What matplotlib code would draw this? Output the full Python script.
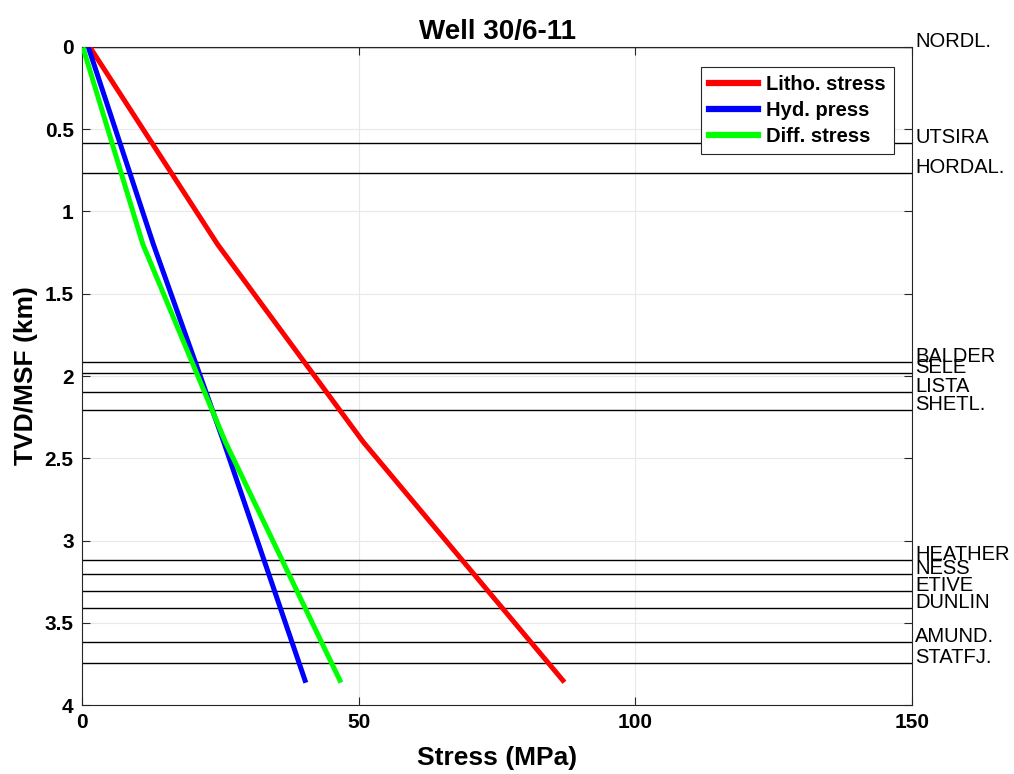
import matplotlib.pyplot as plt
import matplotlib.transforms as mtransforms

plt.rcParams['font.family'] = ['Liberation Sans', 'DejaVu Sans']

# Formation tops (km TVD below seafloor)
horizon_names = ["NORDL.", "UTSIRA", "HORDAL.", "BALDER", "SELE", "LISTA", "SHETL.",
                 "HEATHER", "NESS", "ETIVE", "DUNLIN", "AMUND.", "STATFJ."]
horizon_depth = [0.0, 0.584, 0.766, 1.915, 1.98, 2.097, 2.207,
                 3.12, 3.205, 3.307, 3.41, 3.617, 3.745]

# Stress profiles (MPa) vs depth (km)
depth = [0.018, 1.2, 2.4, 3.85]
litho_stress = [1.75, 24.5, 50.8, 86.9]
hyd_press = [1.3, 12.9, 25.6, 40.3]
diff_stress = [0.3, 11.0, 25.9, 46.6]

fig = plt.figure(figsize=(10.14, 7.74), dpi=100)
ax = fig.add_axes([0.0809, 0.0891, 0.8185, 0.8502])

ax.grid(True, color='#e8e8e8', lw=0.8, zorder=0)

# Horizon lines with labels outside the right edge
trans = mtransforms.blended_transform_factory(ax.transAxes, ax.transData)
for name, d in zip(horizon_names, horizon_depth):
    ax.axhline(d, color='black', lw=1.0, zorder=2)
    ax.text(1.004, d, name, transform=trans, fontsize=14.5, va='baseline',
            ha='left', clip_on=False)

ax.plot(litho_stress, depth, color='#ff0000', lw=3.6, label='Litho. stress', zorder=3)
ax.plot(hyd_press, depth, color='#0000ff', lw=3.6, label='Hyd. press', zorder=3)
ax.plot(diff_stress, depth, color='#00ff00', lw=3.6, label='Diff. stress', zorder=3)

ax.set_xlim(0, 150)
ax.set_ylim(4, 0)
ax.set_xticks([0, 50, 100, 150])
ax.set_yticks([0, 0.5, 1, 1.5, 2, 2.5, 3, 3.5, 4])
ax.set_yticklabels(['0', '0.5', '1', '1.5', '2', '2.5', '3', '3.5', '4'])
ax.tick_params(direction='in', top=True, right=True, length=6, width=0.8,
               color='#262626', labelsize=15, pad=6)
for lab in ax.get_xticklabels() + ax.get_yticklabels():
    lab.set_fontweight('bold')
for sp in ax.spines.values():
    sp.set_color('#262626')
    sp.set_linewidth(0.8)

ax.set_xlabel('Stress (MPa)', fontsize=19, fontweight='bold', labelpad=10)
ax.set_ylabel('TVD/MSF (km)', fontsize=19, fontweight='bold', labelpad=5)
ax.set_title('Well 30/6-11', fontsize=20, fontweight='bold', pad=6)

leg = ax.legend(loc='upper right', bbox_to_anchor=(0.978, 0.97),
                prop={'weight': 'bold', 'size': 14.5}, handlelength=2.45,
                fancybox=False, framealpha=1, edgecolor='#262626',
                borderaxespad=0, labelspacing=0.36, handletextpad=0.4,
                borderpad=0.4)
leg.get_frame().set_linewidth(0.8)
for line in leg.get_lines():
    line.set_linewidth(4.5)

fig.savefig('out.png', dpi=100, facecolor='white')
